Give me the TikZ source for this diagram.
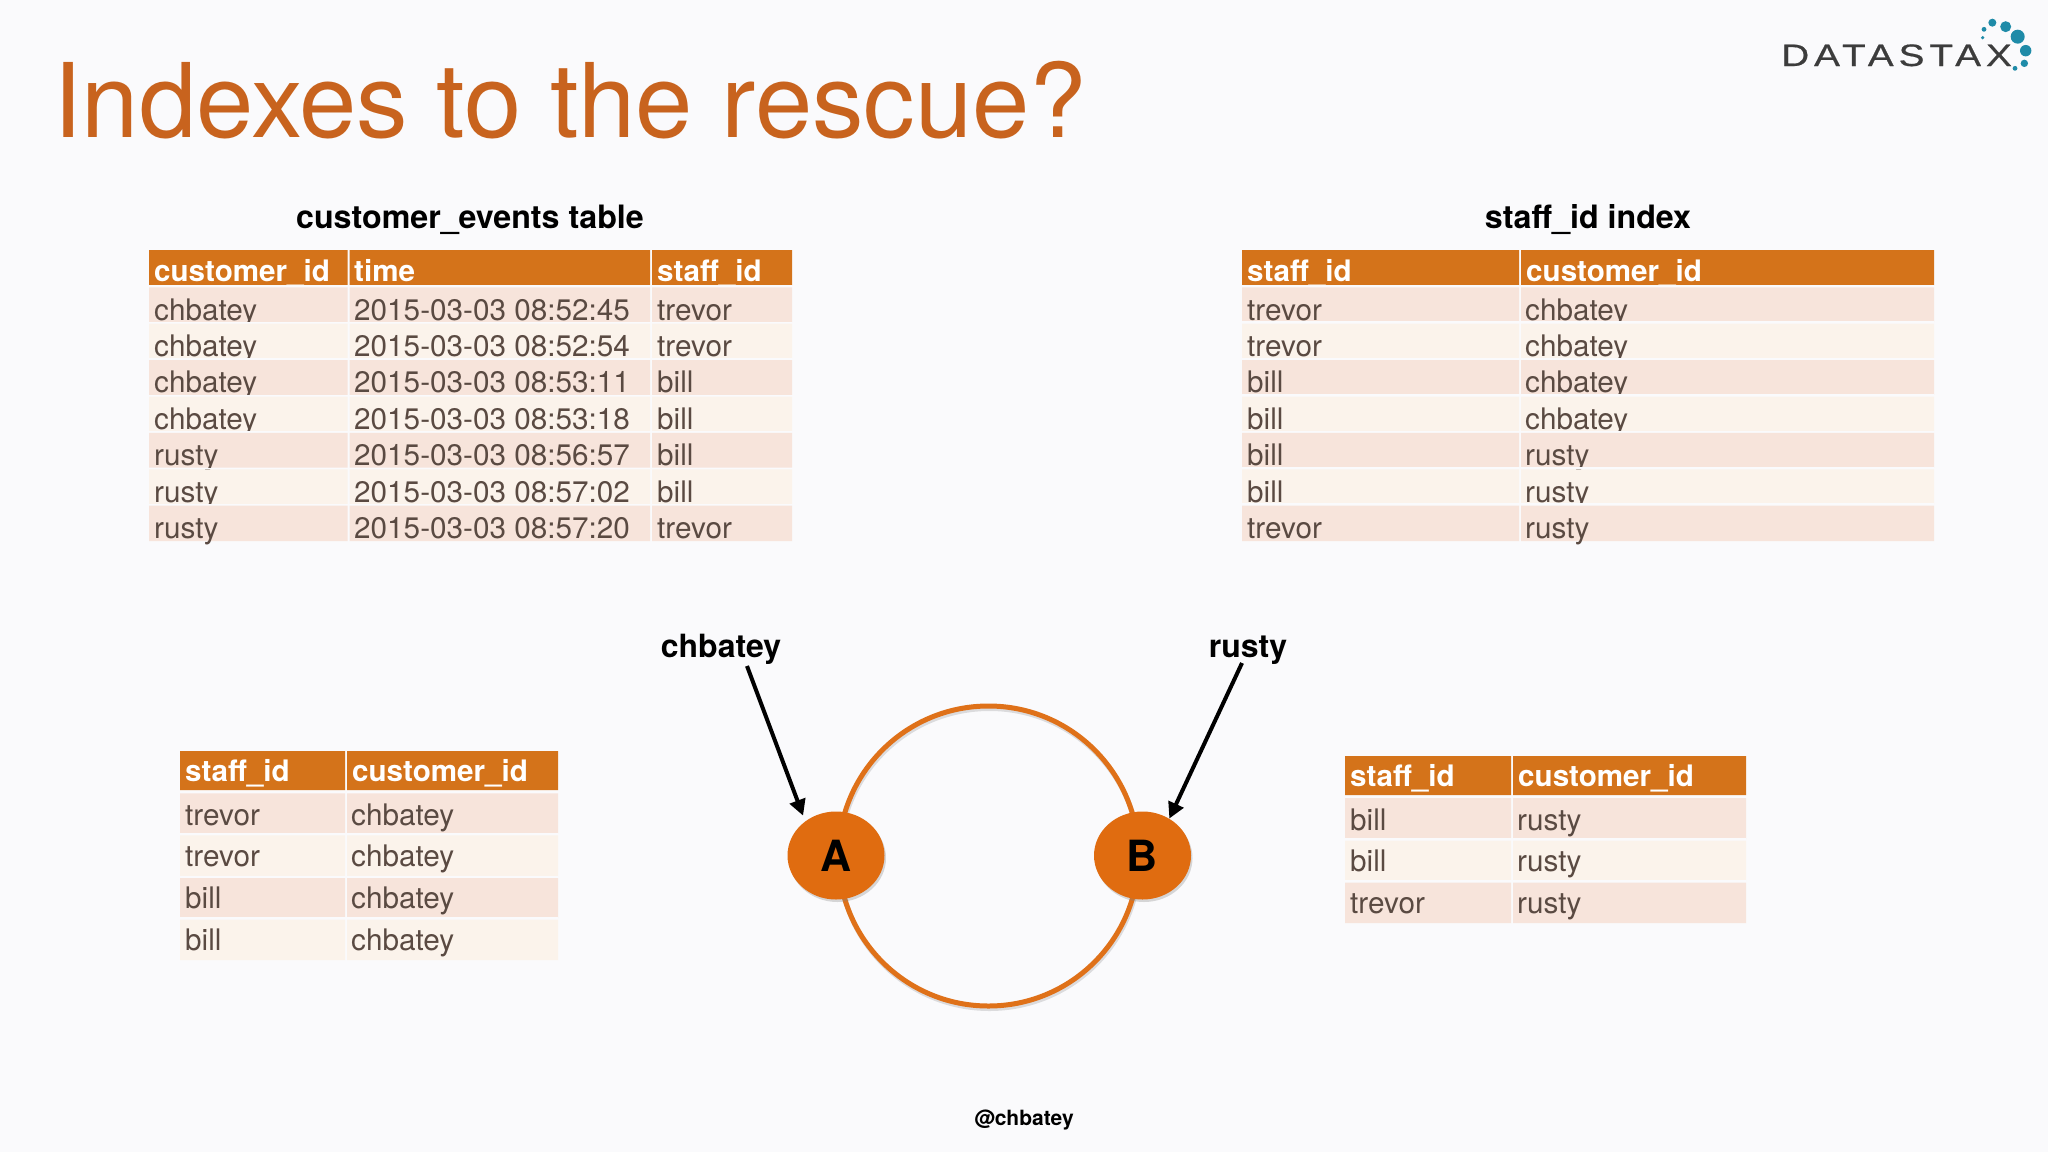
\documentclass[tikz,border=0pt]{standalone}
\usepackage{fontspec}
\setmainfont{TeX Gyre Heros}
\newfontfamily\logofont[LetterSpace=16,FakeStretch=1.25,FakeBold=0.6]{Liberation Sans}
\usetikzlibrary{arrows.meta,shapes.geometric,shadows}
\definecolor{pagebg}{HTML}{FAFAFC}
\definecolor{hdr}{HTML}{D4731A}
\definecolor{rowa}{HTML}{F7E4DB}
\definecolor{rowb}{HTML}{FBF3EB}
\definecolor{celltext}{HTML}{5A4A42}
\definecolor{titlecol}{HTML}{C8631E}
\definecolor{ringcol}{HTML}{DF7119}
\definecolor{nodecol}{HTML}{E06C10}
\definecolor{dotcol}{HTML}{1F8BA8}
\definecolor{logotext}{HTML}{3C3C3C}
\newcommand{\fs}[1]{\fontsize{#1}{#1}\selectfont}
\tikzset{
  x=1pt,y=-1pt,
  cell/.style={anchor=base west,inner sep=0pt,text=celltext,font=\fs{29.7},xshift=1pt,yshift=-0.7pt},
  cellhi/.style={anchor=base west,inner sep=0pt,text=celltext,font=\fs{29.7},xshift=1pt,yshift=-2pt},
  headcell/.style={anchor=base west,inner sep=0pt,text=white,font=\fs{29.6}\bfseries,xshift=1pt,yshift=-0.7pt},
  caption/.style={anchor=base,inner sep=0pt,text=black,font=\fs{32.2}\bfseries},
  toplabel/.style={anchor=base,inner sep=0pt,text=black,font=\fs{32}\bfseries},
  ringnode/.style={ellipse,fill=nodecol,minimum width=97pt,minimum height=88pt,inner sep=0pt,
    text=black,font=\fs{43}\bfseries,
    drop shadow={shadow xshift=1.5pt,shadow yshift=-2.5pt,opacity=.3}},
  pointer/.style={line width=4pt,black,-{Triangle[length=16pt,width=16pt]}},
  logodot/.style={fill=dotcol,draw=none},
}
\newcommand{\threerow}[9]{%
  \fill[pagebg] (149,#4) rectangle (792,#2);
  \fill[#6] (149,#2) rectangle (347.5,#3) (349.5,#2) rectangle (650,#3) (652,#2) rectangle (792,#3);
  \node[#7] (#1a) at (153,#5) {#8};
  \threerowrest{#1}{#5}{#7}#9\relax}
\def\threerowrest#1#2#3#4/#5\relax{%
  \node[#3] (#1b) at (353,#2) {#4};
  \node[#3] (#1c) at (656,#2) {#5};}
\newcommand{\tworow}[9]{%
  \fill[pagebg] (#2,#5-2.4) rectangle (#4,#5);
  \fill[#8] (#2,#5) rectangle (#3-1,#6) (#3+1,#5) rectangle (#4,#6);
  \tworowrest{#1}{#2}{#3}{#7}#9\relax}
\def\tworowrest#1#2#3#4#5/#6/#7\relax{%
  \node[#5] (#1a) at (#2+4,#4) {#6};
  \node[#5] (#1b) at (#3+4,#4) {#7};}
\begin{document}
\begin{tikzpicture}
\useasboundingbox (0,0) rectangle (2048,1152);
\fill[pagebg] (0,0) rectangle (2048,1152);

% slide title
\node[anchor=base west,inner sep=0pt,text=titlecol,font=\fs{103}] (title) at (53,137) {Indexes to the rescue?};

% logo
\node[anchor=base west,inner sep=0pt,text=logotext,font=\logofont\fs{31}] (logo) at (1781,66) {DATASTAX};
\foreach \dx/\dy/\dr in {817/68/4,857/80/5.5,893/110/7,917/152/5.7,913/190/3.7,885/205/2.4,792/88/2.4,788/113/1.8}
  \fill[logodot] ({1720+\dx/3},{\dy/3}) circle (\dr);

% captions
\node[caption] (cap1) at (470,228) {customer\_events table};
\node[caption] (cap2) at (1588,228) {staff\_id index};

% customer_events table
\fill[hdr] (149,250) rectangle (347.5,285) (349.5,250) rectangle (650,285) (652,250) rectangle (792,285);
\node[headcell] (ah1) at (153,281) {customer\_id};
\node[headcell] (ah2) at (353,281) {time};
\node[headcell] (ah3) at (656,281) {staff\_id};
\threerow{ar1}{287.3}{322}{285}{318}{rowa}{cellhi}{chbatey}{2015-03-03 08:52:45/trevor}
\threerow{ar2}{323.7}{358.4}{322}{354.4}{rowb}{cellhi}{chbatey}{2015-03-03 08:52:54/trevor}
\threerow{ar3}{360.1}{394.8}{358.4}{390.8}{rowa}{cellhi}{chbatey}{2015-03-03 08:53:11/bill}
\threerow{ar4}{396.5}{431.2}{394.8}{427.2}{rowb}{cellhi}{chbatey}{2015-03-03 08:53:18/bill}
\threerow{ar5}{432.9}{467.6}{431.2}{463.6}{rowa}{cellhi}{rusty}{2015-03-03 08:56:57/bill}
\threerow{ar6}{469.3}{504}{467.6}{500}{rowb}{cellhi}{rusty}{2015-03-03 08:57:02/bill}
\threerow{ar7}{505.7}{541}{504}{536.4}{rowa}{cellhi}{rusty}{2015-03-03 08:57:20/trevor}

% staff_id index table
\fill[hdr] (1242,250) rectangle (1519,285) (1521,250) rectangle (1934,285);
\node[headcell] (bh1) at (1246,281) {staff\_id};
\node[headcell] (bh2) at (1525,281) {customer\_id};
\tworow{br1}{1242}{1520}{1934}{287.3}{322}{318}{rowa}{cellhi/trevor/chbatey}
\tworow{br2}{1242}{1520}{1934}{323.7}{358.4}{354.4}{rowb}{cellhi/trevor/chbatey}
\tworow{br3}{1242}{1520}{1934}{360.1}{394.8}{390.8}{rowa}{cellhi/bill/chbatey}
\tworow{br4}{1242}{1520}{1934}{396.5}{431.2}{427.2}{rowb}{cellhi/bill/chbatey}
\tworow{br5}{1242}{1520}{1934}{432.9}{467.6}{463.6}{rowa}{cellhi/bill/rusty}
\tworow{br6}{1242}{1520}{1934}{469.3}{504}{500}{rowb}{cellhi/bill/rusty}
\tworow{br7}{1242}{1520}{1934}{505.7}{541}{536.4}{rowa}{cellhi/trevor/rusty}

% node A table
\fill[hdr] (180,751) rectangle (345,790) (347,751) rectangle (558,790);
\node[headcell] (ch1) at (184,781) {staff\_id};
\node[headcell] (ch2) at (351,781) {customer\_id};
\tworow{cr1}{180}{346}{558}{793.4}{833}{825}{rowa}{cell/trevor/chbatey}
\tworow{cr2}{180}{346}{558}{835.4}{876.5}{866}{rowb}{cell/trevor/chbatey}
\tworow{cr3}{180}{346}{558}{878}{918}{908}{rowa}{cell/bill/chbatey}
\tworow{cr4}{180}{346}{558}{919.5}{960}{950}{rowb}{cell/bill/chbatey}

% node B table
\fill[hdr] (1345,756) rectangle (1511,795) (1513,756) rectangle (1746,795);
\node[headcell] (dh1) at (1349,786) {staff\_id};
\node[headcell] (dh2) at (1517,786) {customer\_id};
\tworow{dr1}{1345}{1512}{1746}{798}{839}{830}{rowa}{cell/bill/rusty}
\tworow{dr2}{1345}{1512}{1746}{840.5}{881}{871}{rowb}{cell/bill/rusty}
\tworow{dr3}{1345}{1512}{1746}{882.5}{923}{913}{rowa}{cell/trevor/rusty}

% ring
\coordinate (ringcentre) at (988.5,856);
\draw[line width=5pt,black,opacity=.12] (989.5,858.5) circle (150);
\draw[line width=5pt,ringcol] (ringcentre) circle (150);
\node[ringnode] (A) at (836,855.5) {A};
\node[ringnode] (B) at (1142.5,855.5) {B};

% key labels and pointers
\node[toplabel] (chbatey) at (721,657) {chbatey};
\node[toplabel] (rusty) at (1248,657) {rusty};
\coordinate (chbateytail) at (747,666);
\coordinate (rustytail) at (1242,663);
\draw[pointer,shorten >=6pt] (chbateytail) -- (A.132);
\draw[pointer] (rustytail) -- (B.54);

% footer
\node[anchor=base,inner sep=0pt,text=black,font=\fs{21}\bfseries] (handle) at (1024,1125) {@chbatey};
\end{tikzpicture}
\end{document}
